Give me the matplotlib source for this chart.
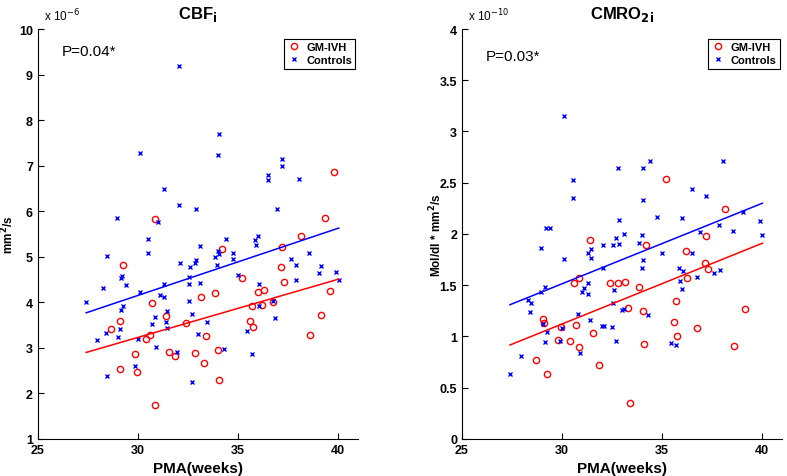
import numpy as np
import matplotlib
matplotlib.use('Agg')
import matplotlib.pyplot as plt

plt.rcParams['font.family'] = ['Liberation Sans', 'DejaVu Sans']

# CBF_i (x 10^-6 mm^2/s)
cbf_ivh_x = [30.88, 29.27, 33.18, 33.87, 39.8, 39.37, 38.17, 34.22, 37.22, 37.15,
             35.2, 37.32, 36.02, 36.3, 39.62, 30.73, 31.4, 29.1, 28.68, 30.6,
             30.42, 32.42, 33.4, 29.85, 31.55, 31.85, 32.87, 34.02, 29.13, 29.98,
             33.3, 34.05, 30.85, 35.73, 36.22, 36.77, 39.15, 35.6, 35.78, 38.6]
cbf_ivh_y = [5.83, 4.83, 4.12, 4.20, 6.86, 5.86, 5.45, 5.16, 5.21, 4.77,
             4.53, 4.45, 4.22, 4.26, 4.25, 3.98, 3.70, 3.60, 3.42, 3.29,
             3.20, 3.54, 3.26, 2.86, 2.92, 2.82, 2.88, 2.96, 2.54, 2.46,
             2.66, 2.29, 1.75, 3.91, 3.94, 4.01, 3.72, 3.58, 3.45, 3.28]
cbf_ctl_x = [32.05, 34.06, 34.0, 30.1, 31.33, 32.05, 32.9, 28.98, 31.0, 30.53,
             30.53, 33.12, 34.0, 33.85, 28.45, 32.9, 32.85, 32.1, 32.6, 33.98,
             29.2, 29.18, 29.43, 28.28, 31.33, 32.57, 32.57, 33.12, 30.12, 31.13,
             31.32, 37.23, 37.23, 36.52, 36.52, 38.08, 36.95, 34.43, 36.02, 35.87,
             35.93, 34.06, 34.77, 34.77, 37.65, 37.9, 38.57, 35.03, 39.18, 39.07,
             39.92, 40.05, 37.9, 36.05, 27.42, 29.27, 29.18, 32.57, 31.47, 30.85,
             32.72, 31.43, 31.45, 30.73, 29.1, 28.42, 29.0, 27.97, 30.02, 33.45,
             33.02, 30.9, 31.98, 29.88, 28.45, 32.72, 36.05, 36.77, 36.88, 35.47,
             34.3, 35.73]
cbf_ctl_y = [9.19, 7.70, 7.23, 7.27, 6.49, 6.14, 6.04, 5.85, 5.76, 5.38,
             5.09, 5.24, 5.13, 4.99, 5.01, 4.93, 4.86, 4.86, 4.78, 4.83,
             4.58, 4.53, 4.38, 4.31, 4.41, 4.56, 4.41, 4.42, 4.22, 4.16,
             4.12, 7.14, 6.99, 6.80, 6.69, 6.70, 6.04, 5.38, 5.45, 5.37,
             5.26, 5.07, 5.08, 4.96, 4.96, 4.83, 5.08, 4.59, 4.80, 4.64,
             4.67, 4.48, 4.50, 4.41, 4.00, 3.91, 3.84, 4.04, 3.81, 3.67,
             3.74, 3.56, 3.44, 3.52, 3.41, 3.33, 3.24, 3.17, 3.20, 3.57,
             3.31, 3.02, 2.90, 2.61, 2.38, 2.25, 3.91, 4.04, 3.66, 3.37,
             2.98, 2.86]
cbf_fit_x = [27.42, 40.05]
cbf_fit_ivh = [2.90, 4.51]
cbf_fit_ctl = [3.77, 5.63]

# CMRO2_i (x 10^-10 Mol/dl * mm^2/s)
cmro_ivh_x = [31.4, 30.87, 30.58, 32.42, 32.82, 35.18, 38.15, 37.2, 34.2, 36.2,
              37.13, 37.28, 36.27, 33.15, 33.85, 29.07, 29.12, 30.72, 29.93, 31.55,
              29.8, 30.4, 30.83, 28.68, 31.85, 29.25, 35.72, 39.15, 33.3, 34.03,
              35.6, 36.73, 35.77, 34.12, 38.58, 33.4]
cmro_ivh_y = [1.94, 1.57, 1.52, 1.52, 1.52, 2.54, 2.24, 1.98, 1.89, 1.83,
              1.72, 1.66, 1.57, 1.53, 1.48, 1.17, 1.13, 1.11, 1.09, 1.03,
              0.97, 0.96, 0.90, 0.77, 0.72, 0.63, 1.35, 1.27, 1.28, 1.25,
              1.14, 1.08, 1.00, 0.93, 0.91, 0.35]
cmro_ctl_x = [30.12, 32.82, 30.53, 30.53, 29.22, 29.42, 32.87, 32.68, 28.97, 31.43,
              32.03, 32.55, 32.87, 31.32, 31.45, 30.08, 32.03, 31.32, 29.17, 31.12,
              30.98, 31.28, 28.97, 32.58, 34.42, 38.07, 34.05, 36.5, 37.22, 34.05,
              34.75, 36.0, 39.03, 39.9, 37.87, 36.9, 38.53, 40.02, 33.1, 34.0,
              33.83, 35.02, 36.48, 34.03, 34.0, 35.85, 36.03, 37.62, 37.88, 36.77,
              35.9, 36.02, 28.32, 28.43, 28.4, 32.53, 29.07, 30.82, 31.42, 32.02,
              32.1, 32.52, 30.0, 29.25, 29.88, 29.17, 32.7, 30.88, 27.95, 27.4,
              33.02, 33.08, 34.32, 35.45, 35.72]
cmro_ctl_y = [3.15, 2.64, 2.53, 2.35, 2.06, 2.06, 2.14, 1.96, 1.86, 1.85,
              1.89, 1.89, 1.90, 1.81, 1.77, 1.76, 1.67, 1.52, 1.48, 1.47,
              1.43, 1.41, 1.43, 1.45, 2.71, 2.71, 2.64, 2.44, 2.37, 2.33,
              2.17, 2.16, 2.21, 2.13, 2.09, 2.02, 2.03, 1.99, 2.00, 1.99,
              1.91, 1.81, 1.81, 1.75, 1.67, 1.67, 1.64, 1.62, 1.65, 1.58,
              1.54, 1.46, 1.36, 1.33, 1.24, 1.33, 1.12, 1.22, 1.16, 1.10,
              1.10, 1.09, 1.08, 1.04, 0.96, 0.95, 0.96, 0.84, 0.81, 0.63,
              1.26, 1.27, 1.21, 0.94, 0.92]
cmro_fit_x = [27.4, 40.02]
cmro_fit_ivh = [0.917, 1.91]
cmro_fit_ctl = [1.31, 2.30]

fig = plt.figure(figsize=(7.87, 4.77), dpi=100)
ax1 = fig.add_axes([0.048, 0.0776, 0.4066, 0.8595])
ax2 = fig.add_axes([0.587, 0.0776, 0.4066, 0.8595])

panels = [
    (ax1, cbf_ivh_x, cbf_ivh_y, cbf_ctl_x, cbf_ctl_y, cbf_fit_x, cbf_fit_ivh, cbf_fit_ctl,
     r'CBF$_\mathbf{i}$', 'mm$^\mathbf{2}$/s', (1, 10), np.arange(1, 11, 1),
     r'x 10$^{-6}$', 'P=0.04*', 0.946, -0.066),
    (ax2, cmro_ivh_x, cmro_ivh_y, cmro_ctl_x, cmro_ctl_y, cmro_fit_x, cmro_fit_ivh, cmro_fit_ctl,
     r'CMRO$_\mathbf{2i}$', 'Mol/dl * mm$^\mathbf{2}$/s', (0, 4), np.arange(0, 4.01, 0.5),
     r'x 10$^{-10}$', 'P=0.03*', 0.934, -0.055),
]

for (ax, ix, iy, cx, cy, fx, fi, fc, title, ylab, ylim, yt, off, ptxt, py, ylx) in panels:
    ax.plot(ix, iy, 'o', mfc='none', mec='r', ms=4.5, mew=1.0, label='GM-IVH')
    ax.plot(cx, cy, 'x', color='b', ms=3.5, mew=1.0, label='Controls')
    ax.plot(fx, fi, '-', color='r', lw=1.1)
    ax.plot(fx, fc, '-', color='b', lw=1.1)
    ax.set_xlim(25, 41)
    ax.set_ylim(*ylim)
    ax.set_xticks([25, 30, 35, 40])
    ax.set_yticks(yt)
    ax.set_yticklabels(['%g' % v for v in yt])
    ax.spines['top'].set_visible(False)
    ax.spines['right'].set_visible(False)
    ax.tick_params(direction='in', length=4, width=0.8, labelsize=9)
    for lbl in ax.get_xticklabels() + ax.get_yticklabels():
        lbl.set_fontweight('bold')
    ax.set_title(title, fontsize=12, fontweight='bold', pad=8)
    ax.set_xlabel('PMA(weeks)', fontsize=11, fontweight='bold', labelpad=4)
    ax.set_ylabel(ylab, fontsize=8.5, fontweight='bold')
    ax.yaxis.set_label_coords(ylx, 0.5)
    ax.text(0.02, 1.015, off, transform=ax.transAxes, fontsize=8.5, va='bottom')
    ax.text(0.075, py, ptxt, transform=ax.transAxes, fontsize=11, va='center')
    leg = ax.legend(loc='upper right', bbox_to_anchor=(1.01, 0.99), prop={'weight': 'bold', 'size': 8},
                    fancybox=False, edgecolor='black', framealpha=1, handlelength=1.2,
                    borderpad=0.3, labelspacing=0.3, handletextpad=0.5)
    leg.get_frame().set_linewidth(0.8)

fig.savefig('out.png', dpi=100)
